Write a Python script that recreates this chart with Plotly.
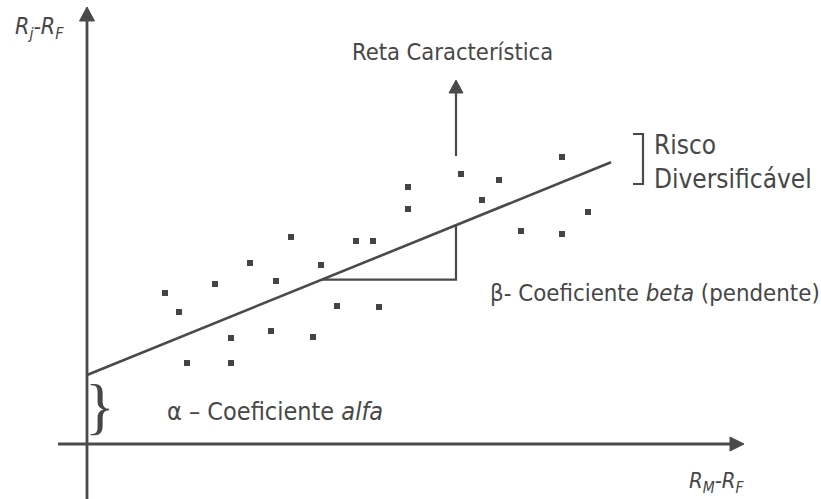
import plotly.graph_objects as go

# --- data (units: origin at axis crossing) ---
market_excess = [78, 92, 100, 128, 144, 144, 163, 189, 184, 204, 234, 226, 250,
                 269, 286, 292, 321, 321, 374, 412, 395, 434, 475, 475, 501]
asset_excess = [151, 132, 81, 160, 106, 81, 181, 163, 113, 207, 179, 107, 138,
                203, 203, 137, 257, 235, 270, 264, 244, 213, 210, 287, 232]
alpha = 69
beta = 0.406
line_x = [0, 524]
tri_x = [235, 369]

# --- styling ---
INK = "#4a4a4a"
TXT = "#474747"
FONT = "Liberation Sans Narrow, Arial Narrow, DejaVu Sans Condensed, sans-serif"

X0, X1 = -87, 734
Y0, Y1 = -55, 444

fig = go.Figure()

# characteristic line
fig.add_trace(go.Scatter(
    x=line_x, y=[alpha + beta * v for v in line_x], mode="lines",
    line=dict(color=INK, width=2.6), hoverinfo="skip", showlegend=False))

# slope triangle
ty0 = alpha + beta * tri_x[0]
ty1 = alpha + beta * tri_x[1]
fig.add_trace(go.Scatter(
    x=[tri_x[0], tri_x[1], tri_x[1]], y=[ty0, ty0, ty1], mode="lines",
    line=dict(color=INK, width=2.2), hoverinfo="skip", showlegend=False))

# scatter points
fig.add_trace(go.Scatter(
    x=market_excess, y=asset_excess, mode="markers",
    marker=dict(symbol="square", size=6, color="#444444"),
    hoverinfo="skip", showlegend=False))

shapes = []
# y axis
shapes.append(dict(type="line", x0=0, x1=0, y0=Y0, y1=425,
                   line=dict(color=INK, width=2.8)))
shapes.append(dict(type="path", path="M -7.5 423 L 7.5 423 L 0 437 Z",
                   fillcolor=INK, line=dict(color=INK, width=1)))
# x axis
shapes.append(dict(type="line", x0=-29, x1=645, y0=0, y1=0,
                   line=dict(color=INK, width=2.8)))
shapes.append(dict(type="path", path="M 643 -7 L 643 7 L 657 0 Z",
                   fillcolor=INK, line=dict(color=INK, width=1)))
# Reta característica arrow
shapes.append(dict(type="line", x0=369, x1=369, y0=288, y1=353,
                   line=dict(color=INK, width=2.2)))
shapes.append(dict(type="path", path="M 362 351 L 376 351 L 369 364 Z",
                   fillcolor=INK, line=dict(color=INK, width=1)))
# Risco bracket
shapes.append(dict(type="path", path="M 546 310 L 556 310 L 556 260 L 546 260",
                   line=dict(color=INK, width=2.2)))

annotations = [
    dict(x=365, y=392, text="Reta Característica", showarrow=False,
         font=dict(family=FONT, size=23.5, color=TXT), xanchor="center", yanchor="middle"),
    dict(x=565, y=282, text="Risco<br>Diversificável", showarrow=False, align="left",
         font=dict(family=FONT, size=26, color=TXT), xanchor="left", yanchor="middle"),
    dict(x=401, y=151, text="β- Coeficiente <i>beta</i> (pendente)", showarrow=False,
         font=dict(family=FONT, size=23.8, color=TXT), xanchor="left", yanchor="middle"),
    dict(x=78, y=33, text="α – Coeficiente <i>alfa</i>", showarrow=False,
         font=dict(family=FONT, size=25, color=TXT), xanchor="left", yanchor="middle"),
    dict(x=13, y=38, text="}", showarrow=False,
         font=dict(family="Liberation Serif, DejaVu Serif, serif", size=62, color=TXT),
         xanchor="center", yanchor="middle"),
    dict(x=-74, y=416, text="<i>R<sub>j</sub>-R<sub>F</sub></i>", showarrow=False,
         font=dict(family=FONT, size=23, color=TXT), xanchor="left", yanchor="middle"),
    dict(x=600, y=-38, text="<i>R<sub>M</sub>-R<sub>F</sub></i>", showarrow=False,
         font=dict(family=FONT, size=22, color=TXT), xanchor="left", yanchor="middle"),
]

fig.update_layout(
    width=821, height=499,
    margin=dict(l=0, r=0, t=0, b=0),
    paper_bgcolor="white", plot_bgcolor="white",
    xaxis=dict(range=[X0, X1], visible=False, fixedrange=True),
    yaxis=dict(range=[Y0, Y1], visible=False, fixedrange=True),
    shapes=shapes, annotations=annotations, showlegend=False,
)

fig.write_html("out.html", config={"displayModeBar": False},
               post_script="document.body.style.margin='0';")
